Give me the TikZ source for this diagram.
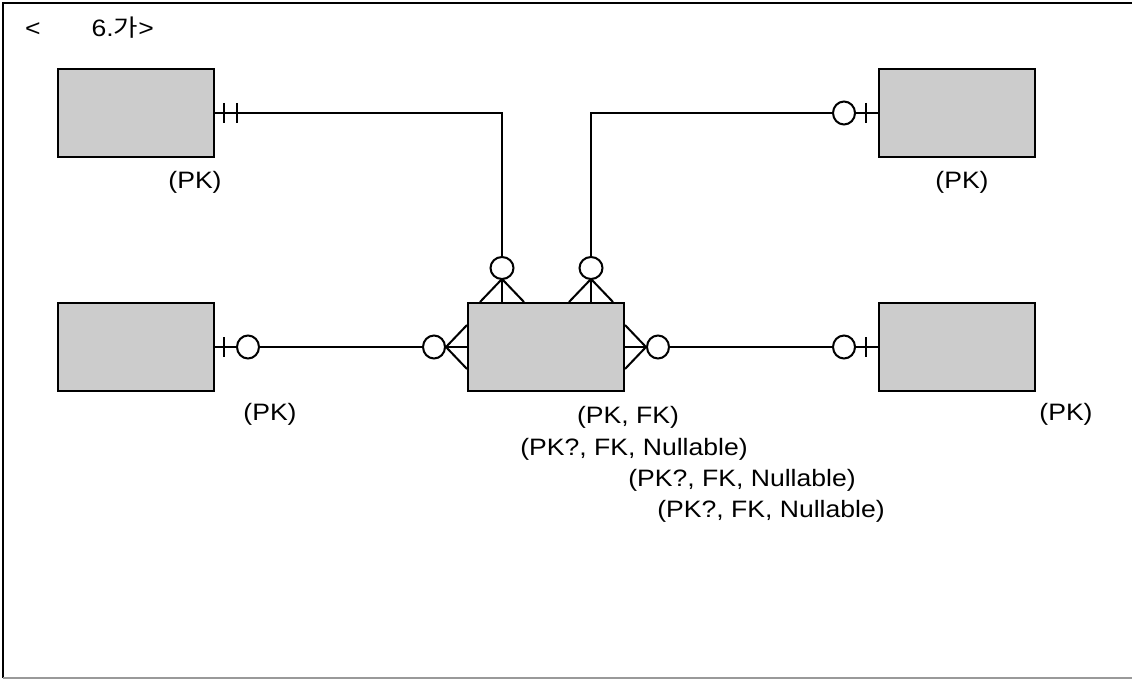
\documentclass[tikz,border=0pt]{standalone}
\usepackage{fontspec}
\setmainfont{Liberation Sans}
\newfontfamily\krfont{Noto Sans CJK KR}
\usetikzlibrary{positioning, calc}
\newcommand{\wide}[1]{\scalebox{1.12}[1]{#1}}

\begin{document}
\begin{tikzpicture}[x=0.02cm, y=-0.02cm, line width=1.15pt,
    entity/.style={draw, rectangle, fill=gray!40, minimum width=3.12cm, minimum height=1.76cm, inner sep=0pt},
    lbl/.style={inner sep=0pt, font=\fontsize{13.5}{15}\selectfont},
    ring/.style={draw, fill=white}]
      \useasboundingbox (0,0) rectangle (1132,679);

      % Frame
      \draw[line width=1.3pt] (1132,3) -- (3,3) -- (3,678);
      \draw[gray!80, line width=1.3pt] (3,678) -- (1132,678);

      % Nodes
      \node[entity] (topleft) at (136,113) {};
      \node[entity] (topright) at (957,113) {};
      \node[entity] (midleft) at (136,347) {};
      \node[entity] (midright) at (957,347) {};
      \node[entity] (link) at (546,347) {};

      % Edges
      \coordinate (inA) at ($(link.north)+(-44,0)$);
      \coordinate (inB) at ($(link.north)+(45,0)$);
      \draw (topleft.east) -| (inA);
      \draw (topright.west) -| (inB);
      \draw (midleft.east) -- (link.west);
      \draw (link.east) -- (midright.west);

      % One ends
      \draw ([shift={(9,-10)}]topleft.east) -- ++(0,20);
      \draw ([shift={(22,-10)}]topleft.east) -- ++(0,20);
      \draw ([shift={(9,-10)}]midleft.east) -- ++(0,20);
      \draw[ring] ([shift={(33,0)}]midleft.east) circle[x radius=11, y radius=11.5];
      \draw ([shift={(-12,-10)}]topright.west) -- ++(0,20);
      \draw[ring] ([shift={(-34,0)}]topright.west) circle[x radius=11, y radius=11.5];
      \draw ([shift={(-12,-10)}]midright.west) -- ++(0,20);
      \draw[ring] ([shift={(-34,0)}]midright.west) circle[x radius=11, y radius=11.5];

      % Many ends
      \foreach \p in {inA, inB} {
        \draw ([shift={(-22,0)}]\p) -- ([shift={(0,-23)}]\p) -- ([shift={(22,0)}]\p);
        \draw[ring] ([shift={(0,-34)}]\p) circle[x radius=11.5, y radius=11];
      }
      \draw ([shift={(0,-22)}]link.west) -- ([shift={(-21,0)}]link.west) -- ([shift={(0,22)}]link.west);
      \draw[ring] ([shift={(-33,0)}]link.west) circle[x radius=11, y radius=11.5];
      \draw ([shift={(0,-22)}]link.east) -- ([shift={(21,0)}]link.east) -- ([shift={(0,22)}]link.east);
      \draw[ring] ([shift={(33,0)}]link.east) circle[x radius=11, y radius=11.5];

      % Labels
      \node[lbl, anchor=west] (title) at (24,28) {\wide{<\hspace{26pt}6.{\krfont 가}>}};
      \node[lbl] (pkA) at (195,182) {\wide{(PK)}};
      \node[lbl] (pkB) at (962,182) {\wide{(PK)}};
      \node[lbl] (pkC) at (270,414) {\wide{(PK)}};
      \node[lbl] (pkD) at (1066,414) {\wide{(PK)}};
      \node[lbl] (keyA) at (628,417) {\wide{(PK, FK)}};
      \node[lbl] (keyB) at (634,449) {\wide{(PK?, FK, Nullable)}};
      \node[lbl] (keyC) at (742,480) {\wide{(PK?, FK, Nullable)}};
      \node[lbl] (keyD) at (771,511) {\wide{(PK?, FK, Nullable)}};
    \end{tikzpicture}
\end{document}
